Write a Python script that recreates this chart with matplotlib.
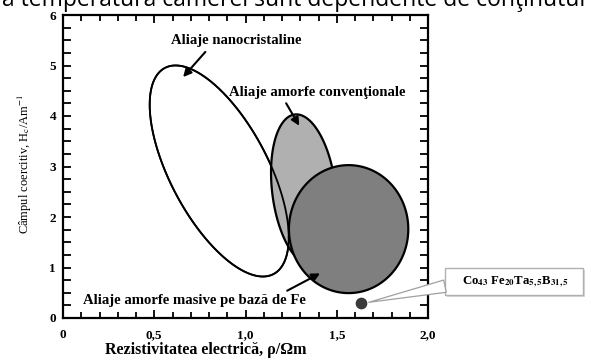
import numpy as np
import matplotlib
matplotlib.use('Agg')
import matplotlib.pyplot as plt
from matplotlib.patches import Rectangle
from matplotlib.ticker import MultipleLocator

plt.rcParams['font.family'] = ['Liberation Serif', 'DejaVu Serif']
plt.rcParams['mathtext.fontset'] = 'stix'

# regiuni (elipse): centru si doua semidiametre conjugate (unitati de date)
centre_x = [0.856, 1.32, 1.565]
centre_y = [2.911, 2.535, 1.76]
u_dx = [0.381, 0.050, 0.0]
u_dy = [-1.313, -1.495, 1.267]
v_dx = [0.0, 0.173, 0.327]
v_dy = [1.626, 0.075, 0.0]
fills = ['white', '#b0b0b0', '#7f7f7f']

# aliajul Co43Fe20Ta5,5B31,5
dot_x = [1.635]
dot_y = [0.30]

x_ticks = [0, 0.5, 1.0, 1.5, 2.0]
x_ticklabels = ['0', '0,5', '1,0', '1,5', '2,0']
y_ticks = [0, 1, 2, 3, 4, 5, 6]

fig = plt.figure(figsize=(5.91, 3.60), dpi=100)
ax = fig.add_axes([63/591, 1 - 318/360, 365/591, 303/360])
ax.set_xlim(0, 2)
ax.set_ylim(0, 6)

t = np.linspace(0, 2 * np.pi, 300)
for i in range(3):
    ex = centre_x[i] + u_dx[i] * np.cos(t) + v_dx[i] * np.sin(t)
    ey = centre_y[i] + u_dy[i] * np.cos(t) + v_dy[i] * np.sin(t)
    ax.fill(ex, ey, fc=fills[i], ec='black', lw=1.6 if i else 1.3, zorder=2 + i)
    if i == 0:
        # conturul elipsei albe ramane vizibil peste cea gri
        ax.plot(ex, ey, color='black', lw=1.3, zorder=3.5)

ax.scatter(dot_x, dot_y, s=55, c='#3a3a3a', zorder=6)

txt = dict(fontsize=10.6, weight='bold', ha='left', va='center', zorder=7)
arw = dict(arrowstyle='-|>', color='black', lw=1.5, mutation_scale=12)
ax.text(0.594, 5.49, 'Aliaje nanocristaline', **txt)
ax.annotate('', xy=(0.648, 4.73), xytext=(0.79, 5.31), arrowprops=arw, zorder=7)
ax.text(0.91, 4.46, 'Aliaje amorfe convenţionale', **txt)
ax.annotate('', xy=(1.302, 3.76), xytext=(1.215, 4.30), arrowprops=arw, zorder=7)
ax.text(0.109, 0.34, 'Aliaje amorfe masive pe bază de Fe', **txt)
ax.annotate('', xy=(1.422, 0.91), xytext=(1.215, 0.515), arrowprops=arw, zorder=7)

# caseta de explicatie din dreapta (umbra + caseta + indicator)
ax.add_patch(Rectangle((2.105, 0.425), 0.757, 0.535, fc='#d8d8d8', ec='none',
                       clip_on=False, zorder=7))
ax.add_patch(Rectangle((2.093, 0.455), 0.757, 0.535, fc='white', ec='#b0b0b0',
                       lw=1.0, clip_on=False, zorder=8))
ax.annotate('', xy=(1.675, 0.31), xytext=(2.093, 0.63), annotation_clip=False,
            arrowprops=dict(arrowstyle='wedge,tail_width=0.9', fc='white',
                            ec='#a0a0a0', lw=0.9, shrinkA=0, shrinkB=0), zorder=8)
ax.text(2.48, 0.72, r'Co$_{\mathbf{43}}$ Fe$_{\mathbf{20}}$Ta$_{\mathbf{5,5}}$B$_{\mathbf{31,5}}$',
        ha='center', va='center', fontsize=9.2, weight='bold', clip_on=False, zorder=9)

ax.set_xticks(x_ticks)
ax.set_xticklabels(x_ticklabels)
ax.set_yticks(y_ticks)
ax.xaxis.set_minor_locator(MultipleLocator(0.1))
ax.yaxis.set_minor_locator(MultipleLocator(0.25))
ax.tick_params(which='both', direction='in', top=True, right=True, width=1.3,
               labelsize=9.5, colors='black')
ax.tick_params(which='major', length=6)
ax.tick_params(axis='x', which='minor', length=4)
ax.tick_params(axis='y', which='minor', length=6)
ax.tick_params(axis='x', pad=8)
ax.tick_params(axis='y', pad=5)
for lab in ax.get_xticklabels() + ax.get_yticklabels():
    lab.set_fontweight('bold')
for s in ax.spines.values():
    s.set_linewidth(1.6)

ax.set_ylabel(r'Câmpul coercitiv, H$_\mathrm{c}$/Am$^{-1}$', fontsize=9)
ax.yaxis.set_label_coords(-0.08, 0.51)
ax.set_xlabel('Rezistivitatea electrică, ρ/Ωm', fontsize=11.5, weight='bold')
ax.xaxis.set_label_coords(0.39, -0.078)

fig.text(0.004, 1 - 6.5/360, 'a temperatura camerei sunt dependente de conţinutul',
         fontsize=16.5, family=['Open Sans', 'DejaVu Sans'], va='baseline', ha='left')

fig.savefig('out.png', dpi=100, facecolor='white')
